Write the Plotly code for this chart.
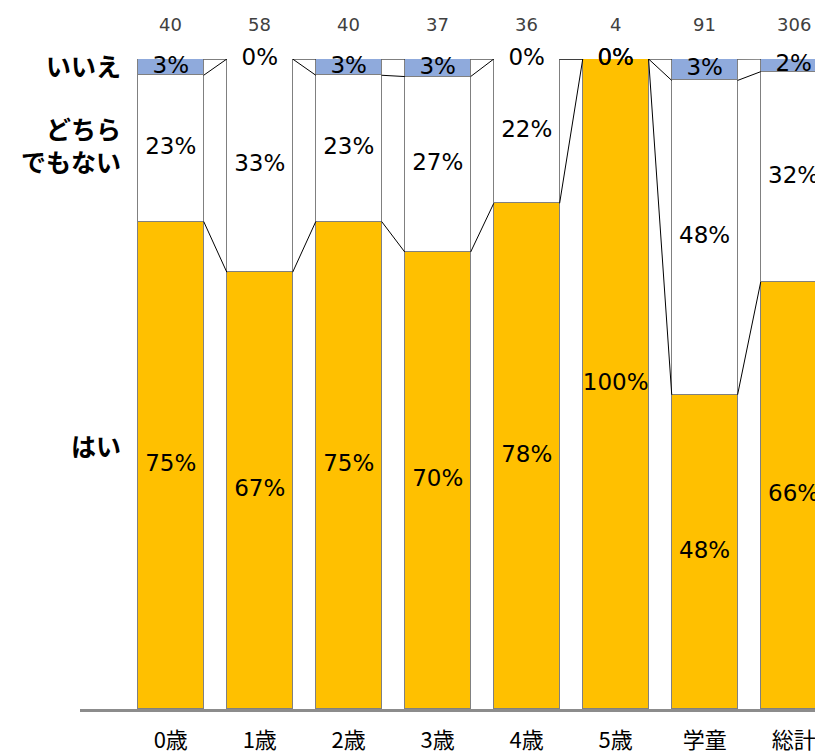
import plotly.graph_objects as go

categories = ["0歳", "1歳", "2歳", "3歳", "4歳", "5歳", "学童", "総計"]
n_labels = ["40", "58", "40", "37", "36", "4", "91", "306"]
yes_pct = [75.0, 67.2, 75.0, 70.3, 77.8, 100.0, 48.35, 65.7]
neither_pct = [22.5, 32.8, 22.5, 27.0, 22.2, 0.0, 48.35, 32.35]
no_pct = [2.5, 0.0, 2.5, 2.7, 0.0, 0.0, 3.3, 1.96]
series_names = ["はい", "どちらでもない", "いいえ"]
series_colors = ["#FFC000", "#FFFFFF", "#8FAADC"]
left_labels = ["いいえ", "どちら<br>でもない", "はい"]
left_label_y = [99.1, 86.8, 40.6]

xs = list(range(len(categories)))
bw = 0.74
series = [yes_pct, neither_pct, no_pct]

fig = go.Figure()
for name, vals, col in zip(series_names, series, series_colors):
    fig.add_trace(go.Bar(
        x=xs, y=vals, name=name, width=bw,
        marker=dict(color=col, line=dict(color="#808080", width=1.5)),
        showlegend=False, hoverinfo="skip",
    ))

# cumulative levels
cum = []
run = [0.0] * len(xs)
for vals in series:
    run = [r + v for r, v in zip(run, vals)]
    cum.append(list(run))

# connector (series) lines
lx, ly = [], []
for level in cum:
    for i in range(len(xs) - 1):
        lx += [xs[i] + bw / 2, xs[i + 1] - bw / 2, None]
        ly += [level[i], level[i + 1], None]
fig.add_trace(go.Scatter(x=lx, y=ly, mode="lines", line=dict(color="black", width=1),
                         showlegend=False, hoverinfo="skip"))

# data labels
tx, ty, tt = [], [], []
base = [0.0] * len(xs)
for vals in series:
    for i, v in enumerate(vals):
        tx.append(xs[i])
        ty.append(base[i] + v / 2)
        tt.append(f"{int(v + 0.5 + 1e-9)}%")
    base = [b + v for b, v in zip(base, vals)]
fig.add_trace(go.Scatter(x=tx, y=ty, text=tt, mode="text",
                         textfont=dict(size=23, color="black", family="DejaVu Sans"),
                         cliponaxis=False, showlegend=False, hoverinfo="skip"))

# n labels
for i, t in enumerate(n_labels):
    fig.add_annotation(x=xs[i], y=100, yshift=35, text=t, showarrow=False,
                       font=dict(size=18, color="#404040", family="DejaVu Sans"))

# left series labels
for t, yv in zip(left_labels, left_label_y):
    fig.add_annotation(x=-0.5, y=yv, xshift=-3, text=f"<b>{t}</b>", showarrow=False,
                       xanchor="right", align="right",
                       font=dict(size=25, color="black", family="Noto Sans CJK JP"))

fig.update_layout(
    barmode="stack", bargap=0,
    width=815, height=753,
    margin=dict(l=80, r=0, t=59, b=44),
    plot_bgcolor="white", paper_bgcolor="white",
    xaxis=dict(range=[-1.02, 7.24], tickvals=xs, ticktext=categories,
               showgrid=False, zeroline=False, showline=True, linecolor="#8C8C8C", linewidth=3,
               ticks="outside", ticklen=10, tickcolor="rgba(0,0,0,0)",
               automargin=False, ticklabeloverflow="allow",
               tickfont=dict(size=22, color="black", family="Noto Sans CJK JP")),
    yaxis=dict(range=[0, 100], visible=False, automargin=False),
)

fig.write_html("out.html", config={"displayModeBar": False},
               post_script="document.body.style.margin='0';document.body.style.overflow='hidden';")
